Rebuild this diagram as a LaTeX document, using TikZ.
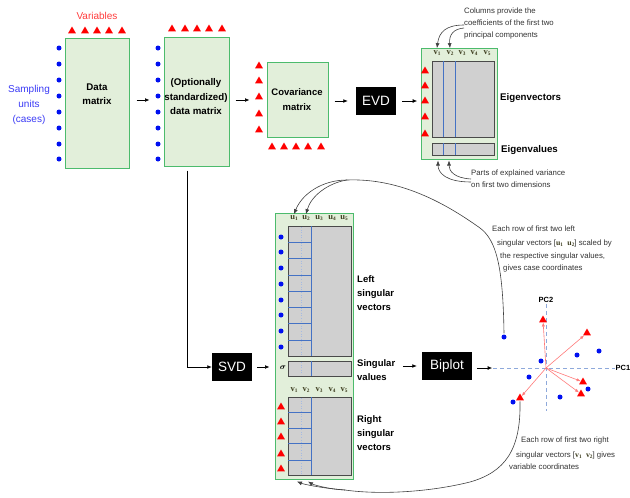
\documentclass[tikz,border=0pt]{standalone}
\usepackage{amsmath}
\usepackage{fontspec}
\setmainfont{Liberation Sans}
\newfontfamily\serifb{Liberation Serif}
\usetikzlibrary{arrows.meta,shapes.geometric}
\definecolor{boxfill}{HTML}{E2EFDA}
\definecolor{boxline}{HTML}{4CBB6C}
\definecolor{mgray}{HTML}{D0D0D0}
\definecolor{mline}{HTML}{4A4A4A}
\definecolor{bline}{HTML}{4472C4}
\definecolor{trired}{HTML}{FF0000}
\definecolor{dotblue}{HTML}{0010F0}
\definecolor{lblc}{HTML}{3D3D1F}
\definecolor{notec}{HTML}{333333}
\definecolor{sampc}{HTML}{3A3AF5}
\definecolor{varc}{HTML}{FF3B3B}
\definecolor{parrc}{HTML}{FF7A7A}
\definecolor{axisc}{HTML}{8EA9DB}
\newcommand\vlab[2]{{\serifb\bfseries\color{lblc}#1\raisebox{-1.4pt}{\fontsize{5.3}{6}\selectfont #2}}}
\tikzset{
  greenbox/.style={draw=boxline, fill=boxfill, line width=1pt, inner sep=0pt},
  blackbox/.style={fill=black, text=white, font=\fontsize{13.5}{15}\selectfont, inner sep=0pt},
  mat/.style={draw=mline, fill=mgray, line width=1pt, inner sep=0pt},
  bl/.style={draw=bline, line width=0.7pt},
  dotl/.style={draw=axisc!80, line width=0.6pt, dotted},
  tri/.style={regular polygon, regular polygon sides=3, fill=trired, inner sep=0pt, minimum size=9pt},
  dot/.style={circle, fill=dotblue, inner sep=0pt, minimum size=5pt},
  arr/.style={-{Latex[length=4.5pt,width=3.8pt]}, line width=0.7pt},
  carr/.style={-{Latex[length=5pt,width=4pt]}, line width=0.6pt, draw=black!75},
  parr/.style={-{Latex[length=4pt,width=3.2pt]}, line width=0.6pt, draw=parrc},
  axis/.style={draw=axisc, line width=0.8pt, dash pattern=on 4pt off 3pt},
  note/.style={font=\fontsize{7.8}{12}\selectfont, text=notec, anchor=west, inner sep=0pt},
  lab/.style={font=\bfseries\fontsize{9.7}{13.5}\selectfont, align=center, inner sep=0pt},
  sidelab/.style={font=\bfseries\fontsize{9.5}{14}\selectfont, align=left, anchor=west, inner sep=0pt},
  biglab/.style={font=\bfseries\fontsize{9.7}{12}\selectfont, anchor=west, inner sep=0pt},
  vl/.style={inner sep=0pt, font=\fontsize{8.5}{9}\selectfont},
}
\begin{document}
\begin{tikzpicture}[x=1pt,y=-1pt]
\useasboundingbox (0,0) rectangle (630,498);

% ---------- Data matrix ----------
\node[greenbox, minimum width=64pt, minimum height=130pt] (dm) at (97,103) {};
\node[lab] (dmt) at (97,94) {Data\\matrix};
\node[font=\fontsize{10}{15}\selectfont, text=varc, inner sep=0pt] (var) at (97,16) {Variables};
\node[font=\fontsize{10}{15}\selectfont, text=sampc, align=center, inner sep=0pt] (samp) at (29,105) {Sampling\\units\\(cases)};
\foreach \y [count=\i] in {48,64,80,96,112,128,144,159} {
  \node[dot] (da\i) at (59,\y) {};
  \node[dot] (db\i) at (158,\y) {};
}
\foreach \x [count=\i] in {72,85,97,109,122} \node[tri] (ta\i) at (\x,31) {};

% ---------- Standardized ----------
\node[greenbox, minimum width=65pt, minimum height=129pt] (b2) at (196.5,101.5) {};
\node[lab, font=\bfseries\fontsize{9.7}{14.5}\selectfont] (b2t) at (196,97) {(Optionally\\standardized)\\data matrix};
\foreach \x [count=\i] in {172,185,197,209,222} \node[tri] (tb\i) at (\x,29) {};

% ---------- Covariance ----------
\node[greenbox, minimum width=61pt, minimum height=75pt] (cov) at (297.5,99.5) {};
\node[lab, font=\bfseries\fontsize{9.5}{15}\selectfont] (covt) at (297,99.5) {Covariance\\matrix};
\foreach \y [count=\i] in {66,81,97,114,130} \node[tri] (tc\i) at (259,\y) {};
\foreach \x [count=\i] in {272,284,296,308,321} \node[tri] (td\i) at (\x,147) {};

% ---------- EVD ----------
\node[blackbox, minimum width=40pt, minimum height=28pt] (evd) at (376,101) {EVD};

% ---------- Eigen box ----------
\node[greenbox, minimum width=76pt, minimum height=111pt] (eig) at (459,103.5) {};
\node[mat, minimum width=62pt, minimum height=76pt] (evm) at (463,99) {};
\draw[bl] (443,61) -- (443,137) (455,61) -- (455,137);
\node[mat, minimum width=62pt, minimum height=12pt] (evbar) at (463,149) {};
\draw[bl] (443,143) -- (443,155) (455,143) -- (455,155);
\foreach \y [count=\i] in {71,86,101,117,134} \node[tri] (te\i) at (425,\y) {};
\foreach \x/\n in {437/1,450/2,462/3,474/4,487/5} \node[vl] (ev\n) at (\x,53) {\vlab{v}{\n}};
\node[biglab] (evec) at (500,98) {Eigenvectors};
\node[biglab] (evals) at (501,150) {Eigenvalues};
\node[note, align=left] (cnote) at (464,23) {Columns provide the\\coefficients of the first two\\principal components};
\node[note, align=left] (pnote) at (471,179) {Parts of explained variance\\on first two dimensions};
\draw[carr] ([yshift=-2pt]cnote.west) .. controls (446,25) and (439,32) .. ([yshift=2pt]ev1.north);
\draw[carr] ([yshift=-5pt]cnote.west) .. controls (453,29) and (449,35) .. ([yshift=2pt]ev2.north);
\draw[carr] ([yshift=-3pt]pnote.west) .. controls (446,182) and (438,173) .. ([xshift=-25pt,yshift=-5pt]evbar.south);
\draw[carr] ([yshift=0pt]pnote.west) .. controls (454,178) and (449,171) .. ([xshift=-14pt,yshift=-5pt]evbar.south);

% ---------- arrows top row ----------
\draw[arr] ([xshift=7pt,yshift=3pt]dm.east) -- ++(13pt,0);
\draw[arr] ([xshift=6pt,yshift=1.5pt]b2.east) -- ++(14pt,0);
\draw[arr] ([xshift=6pt,yshift=-1.5pt]cov.east) -- ([xshift=-8pt]evd.west);
\draw[arr] ([xshift=6pt]evd.east) -- ++(15pt,0);

% ---------- SVD ----------
\node[blackbox, minimum width=40pt, minimum height=28pt] (svd) at (232,367) {SVD};
\draw[arr] ([xshift=-9.5pt,yshift=-4pt]b2.south) |- (svd.west);

% ---------- big SVD box ----------
\node[greenbox, minimum width=78pt, minimum height=266pt] (big) at (314,346) {};
\node[mat, minimum width=63pt, minimum height=130pt] (lm) at (319.5,291) {};
\node[mat, minimum width=63pt, minimum height=15pt] (sb) at (319.5,368.5) {};
\node[mat, minimum width=63pt, minimum height=78pt] (rm) at (319.5,436) {};
\draw[dotl] (301,227) -- (301,355) (301,362) -- (301,375) (301,398) -- (301,474);
\draw[bl] (311,226) -- (311,356) (311,361) -- (311,376) (311,397) -- (311,475);
\foreach \y in {242,258,275,291,307,323,340} \draw[bl] (288,\y) -- (311,\y);
\foreach \y in {412,428,443,460} \draw[bl] (288,\y) -- (311,\y);
\foreach \x/\n in {294/1,306/2,319/3,332/4,344/5} {
  \node[vl] (u\n) at (\x,218) {\vlab{u}{\n}};
  \node[vl] (v\n) at (\x,390) {\vlab{v}{\n}};
}
\foreach \y [count=\i] in {237,252,268,284,300,315,331,347} \node[dot] (dc\i) at (281,\y) {};
\foreach \y [count=\i] in {407,422,437,454,469} \node[tri] (tf\i) at (281,\y) {};
\node[inner sep=0pt, font=\fontsize{8.5}{9}\selectfont] (sig) at (283,368) {$\boldsymbol{\sigma}$};
\node[sidelab] (lsv) at (357,293) {Left\\singular\\vectors};
\node[sidelab] (svl) at (357,370) {Singular\\values};
\node[sidelab] (rsv) at (357,433) {Right\\singular\\vectors};
\draw[arr] ([xshift=5pt]svd.east) -- ([xshift=-5pt]big.west |- svd.east);

% ---------- Biplot ----------
\node[blackbox, minimum width=50pt, minimum height=28pt] (biplot) at (447,366) {Biplot};
\draw[arr] ([xshift=-19pt]biplot.west) -- ([xshift=-5pt]biplot.west);
\draw[arr] ([xshift=5pt,yshift=-2pt]biplot.east) -- ++(15pt,0);

\coordinate (o) at (546,368);
\node[inner sep=1pt, font=\bfseries\fontsize{7.5}{8}\selectfont] (pc1) at (623,368) {PC1};
\node[inner sep=1pt, font=\bfseries\fontsize{7.5}{8}\selectfont] (pc2) at (546,300) {PC2};
\draw[axis] (493,368) -- (pc1.west);
\draw[axis] (pc2.south) -- (546,411);
\foreach \p [count=\i] in {(543,320),(587,333),(583,382),(581,394),(520,398)} \node[tri] (bt\i) at \p {};
\foreach \p [count=\i] in {(504,337),(541,361),(577,355),(599,351),(529,377),(560,397),(588,389),(513,402)} \node[dot] (bd\i) at \p {};
\foreach \i in {1,...,5} \draw[parr] (o) -- (bt\i);

\node[note] (n1a) at (492,229) {Each row of first two left};
\node[note] (n1b) at (497,243) {singular vectors [\vlab{u}{1}\ \ \vlab{u}{2}] scaled by};
\node[note] (n1c) at (500,256) {the respective singular values,};
\node[note] (n1d) at (503,268) {gives case coordinates};
\node[note] (n2a) at (521,440) {Each row of first two right};
\node[note] (n2b) at (516,455) {singular vectors [\vlab{v}{1}\ \ \vlab{v}{2}] gives};
\node[note] (n2c) at (509,467) {variable coordinates};

% ---------- callout curves ----------
\coordinate (jt) at (347,180);
\draw[line width=0.6pt, black!75] ([yshift=1pt]bd1.north) .. controls (503,265) and (496,240) .. (480,228) .. controls (445,203) and (400,178) .. (jt);
\draw[carr] (jt) .. controls (322,180) and (302,194) .. ([yshift=1pt]u1.north);
\draw[carr] (jt) .. controls (328,183) and (311,196) .. ([yshift=1pt]u2.north);
\coordinate (jb) at (345,490);
\draw[line width=0.6pt, black!75] ([yshift=-1pt]bt5.south) .. controls (521,450) and (505,472) .. (470,482) .. controls (430,492) and (380,495) .. (jb);
\draw[carr] (jb) .. controls (320,488) and (303,484) .. ([xshift=-17pt,yshift=-2pt]big.south);
\draw[carr] (jb) .. controls (326,489) and (312,484) .. ([xshift=-6pt,yshift=-2pt]big.south);
\end{tikzpicture}
\end{document}
